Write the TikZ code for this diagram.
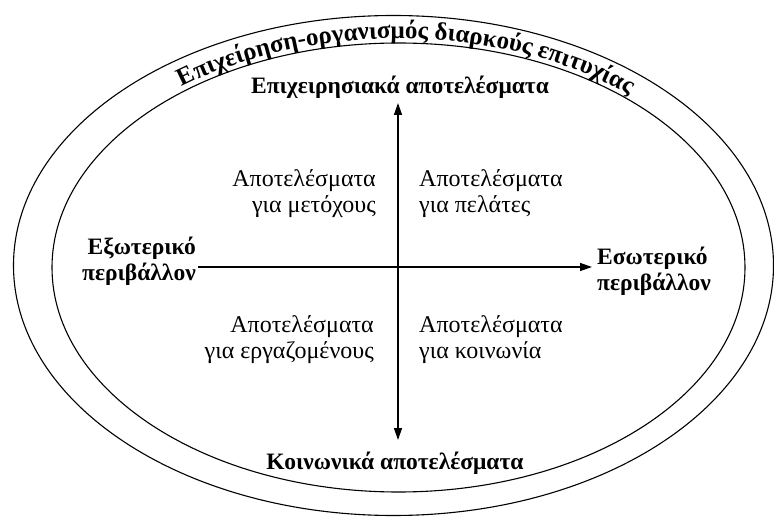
\documentclass[tikz,border=0pt]{standalone}
\usepackage{fontspec}
\setmainfont{Liberation Serif}
\usetikzlibrary{arrows.meta,decorations.text}
\newcommand\hdfmt{\bfseries\fontsize{23.5}{26}\selectfont}
\newcommand\ttlfmt{\bfseries\fontsize{25}{27}\selectfont}
\newcommand\qdfmt{\fontsize{24}{26}\selectfont}
\begin{document}
\begin{tikzpicture}[x=1pt,y=1pt,
  ring/.style={line width=1.1pt},
  axis/.style={line width=1.4pt},
  hd/.style={font=\hdfmt, inner sep=0pt},
  qd/.style={font=\qdfmt, inner sep=0pt}]
\useasboundingbox (0,0) rectangle (774,520);
\fill[white] (0,0) rectangle (774,520);
% ellipses
\draw[ring] (393.5,254.5) ellipse [x radius=380, y radius=250];
\draw[ring] (398.5,252.5) ellipse [x radius=346.5, y radius=224.5];
% curved title
\path[decorate, decoration={text along path,
   text={|\ttlfmt|Επιχείρηση-οργανισμός διαρκούς επιτυχίας},
   text align=center}]
  (398,252.5) ++(156:352 and 229) arc[start angle=156, end angle=20, x radius=352, y radius=229];
% centre and arrow ends
\coordinate (o) at (398,253);
\coordinate (vt) at (398,417);
\coordinate (vb) at (398,80);
% axis labels
\node[hd] (top) at (400,433) {Επιχειρησιακά αποτελέσματα};
\node[hd] (bot) at (395,57) {Κοινωνικά αποτελέσματα};
\node[hd, anchor=east, align=right] (left) at (196,259) {Εξωτερικό\\περιβάλλον};
\node[hd, anchor=west, align=left] (right) at (597,248.5) {Εσωτερικό\\περιβάλλον};
% quadrant labels
\node[qd, anchor=east, align=right] (q1) at (376,326) {Αποτελέσματα\\για μετόχους};
\node[qd, anchor=west, align=left] (q2) at (419,326) {Αποτελέσματα\\για πελάτες};
\node[qd, anchor=east, align=right] (q3) at (374,180) {Αποτελέσματα\\για εργαζομένους};
\node[qd, anchor=west, align=left] (q4) at (419,180) {Αποτελέσματα\\για κοινωνία};
% axes
\draw[axis, {Triangle[length=12pt,width=8pt]}-{Triangle[length=12pt,width=8pt]}]
  (vb) -- (vt);
\draw[axis, -{Triangle[length=12pt,width=8pt]}, shorten <=2pt, shorten >=5pt]
  (left.east |- o) -- (right.west |- o);
\end{tikzpicture}
\end{document}
